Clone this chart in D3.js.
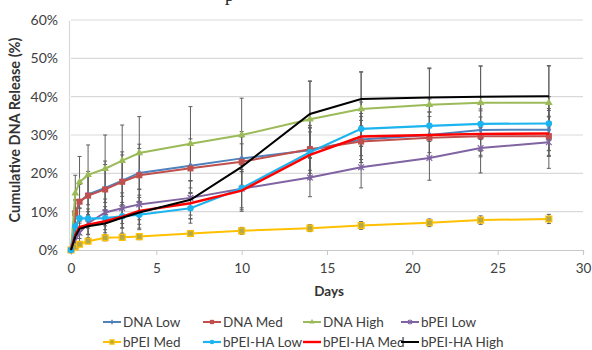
<!DOCTYPE html>
<html>
<head>
<meta charset="utf-8">
<script src="https://cdn.jsdelivr.net/npm/d3@7"></script>
<style>
  body { margin: 0; background: #fff; }
  svg { display: block; font-family: Lato, "Open Sans", sans-serif; }
</style>
</head>
<body>
<div id="chart"></div>
<script>
// sampling days
const days = [0, 0.25, 0.5, 1, 2, 3, 4, 7, 10, 14, 17, 21, 24, 28];

// cumulative release (%) per series
const dnaLow  = [0, 9.0, 12.5, 14.5, 16.2, 18.1, 20.1, 22.0, 23.9, 26.0, 28.8, 30.0, 31.3, 31.4];
const dnaMed  = [0, 9.6, 12.6, 14.2, 15.8, 17.8, 19.5, 21.3, 23.0, 26.3, 28.3, 29.3, 29.7, 29.7];
const dnaHigh = [0, 14.8, 17.7, 19.6, 21.2, 23.3, 25.3, 27.7, 30.0, 34.1, 36.8, 37.9, 38.4, 38.4];
const bpeiLow = [0, 2.5, 4.5, 7.0, 9.8, 10.9, 11.9, 13.6, 16.0, 18.9, 21.6, 24.0, 26.6, 28.1];
const bpeiMed = [0, 0.8, 1.5, 2.3, 3.2, 3.3, 3.5, 4.3, 5.0, 5.7, 6.4, 7.1, 7.8, 8.1];
const haLow   = [0, 6.2, 8.3, 8.2, 8.3, 8.8, 9.2, 10.9, 16.1, 25.5, 31.6, 32.4, 32.9, 33.0];
const haMed   = [0, 4.0, 6.0, 6.6, 7.5, 8.7, 10.2, 12.2, 15.5, 24.8, 29.6, 30.0, 30.3, 30.4];
const haHigh  = [0, 3.5, 5.5, 6.2, 6.9, 8.4, 9.8, 13.1, 21.7, 35.5, 39.4, 39.8, 40.0, 40.1];

// error bar half-widths (%)
const dnaLowErr  = [0, 4, 5, 6, 7, 7.5, 7.5, 7, 7, 6, 6, 6, 5.5, 5.5];
const dnaMedErr  = [0, 3.5, 4.5, 5.5, 6.5, 7, 7, 6.5, 6.5, 5.5, 5.5, 5.5, 5, 5];
const dnaHighErr = [0, 4.7, 6.7, 7.8, 8.8, 9.3, 9.5, 9.7, 9.6, 10, 9.7, 9.6, 9.6, 9.6];
const bpeiLowErr = [0, 1.5, 2.5, 3, 3.5, 4, 4, 4.5, 5, 5, 5.4, 5.8, 6.5, 6.8];
const bpeiMedErr = [0, 0.3, 0.5, 0.6, 0.8, 0.8, 0.8, 0.8, 0.9, 0.9, 1, 1, 1.1, 1.2];
const haLowErr   = [0, 2, 2.5, 2.5, 3, 3, 3.5, 3.9, 6, 7, 7, 7, 7, 7];
const haMedErr   = [0, 2, 2, 2.5, 3, 3, 3.5, 4, 5, 6, 6, 6, 6, 6];
const haHighErr  = [0, 2, 2.5, 3, 3.5, 4, 4.5, 5, 6, 8.5, 7, 7.5, 8, 8];

const seriesNames = ["DNA Low", "DNA Med", "DNA High", "bPEI Low",
                     "bPEI Med", "bPEI-HA Low", "bPEI-HA Med", "bPEI-HA High"];
const seriesValues = [dnaLow, dnaMed, dnaHigh, bpeiLow, bpeiMed, haLow, haMed, haHigh];
const seriesErrors = [dnaLowErr, dnaMedErr, dnaHighErr, bpeiLowErr, bpeiMedErr, haLowErr, haMedErr, haHighErr];

const xTicks = [0, 5, 10, 15, 20, 25, 30];
const yTicks = [0, 10, 20, 30, 40, 50, 60];

const styles = [
  { color: "#4f81bd", marker: "diamond", width: 2 },
  { color: "#c0504d", marker: "square", width: 2 },
  { color: "#9bbb59", marker: "triangle", width: 2 },
  { color: "#8064a2", marker: "star", width: 2 },
  { color: "#ffc000", marker: "xsquare", width: 2 },
  { color: "#1cb4ef", marker: "circle", width: 2.2 },
  { color: "#ff0000", marker: "none", width: 2.4 },
  { color: "#000000", marker: "none", width: 2 }
];

class ReleaseChart {
  constructor(opts) {
    this.element = opts.element;
    this.draw();
  }

  draw() {
    this.margin = { top: 20, right: 9, bottom: 100, left: 71 };
    this.width = 592 - this.margin.left - this.margin.right;
    this.height = 350 - this.margin.top - this.margin.bottom;

    this.svg = d3.select(this.element).append("svg")
      .attr("width", 592)
      .attr("height", 350)
      .style("background-color", "white");

    // stray descender from the caption above the figure
    this.svg.append("text")
      .attr("x", 225).attr("y", 1)
      .style("font-family", "'Liberation Serif', serif")
      .style("font-size", "18px")
      .attr("fill", "#222")
      .text("p");

    this.g = this.svg.append("g")
      .attr("transform", `translate(${this.margin.left},${this.margin.top})`);

    this.x = d3.scaleLinear().domain([0, 30]).range([0, 512]);
    this.y = d3.scaleLinear().domain([0, 60]).range([this.height, 0]);

    this.drawAxes();
    this.drawErrors();
    this.drawLines();
    this.drawLegend();
  }

  drawAxes() {
    const g = this.g;
    // horizontal grid
    g.append("g")
      .selectAll("line")
      .data(yTicks.slice(1))
      .enter().append("line")
      .attr("x1", 0).attr("x2", 512)
      .attr("y1", d => this.y(d)).attr("y2", d => this.y(d))
      .style("stroke", "#d9d9d9").style("stroke-width", 1.2);

    const xAxis = g.append("g")
      .attr("transform", `translate(0,${this.height})`)
      .call(d3.axisBottom(this.x).tickValues(xTicks).tickSize(5).tickPadding(8));
    xAxis.select(".domain").attr("stroke", "#c8c8c8").attr("stroke-width", 1.2);
    xAxis.selectAll(".tick line").attr("stroke", "#c8c8c8");
    xAxis.selectAll("text")
      .style("font-size", "13.5px").style("font-family", "Lato, sans-serif").attr("fill", "#404040");

    const yAxis = g.append("g")
      .attr("transform", "translate(-2,0)")
      .call(d3.axisLeft(this.y).tickValues(yTicks).tickSize(0).tickPadding(11)
        .tickFormat(d => d + "%"));
    yAxis.select(".domain").attr("stroke", "#d9d9d9").attr("stroke-width", 1.2);
    yAxis.selectAll("text")
      .style("font-size", "14px").style("font-family", "Lato, sans-serif").attr("fill", "#404040");

    g.append("text")
      .attr("transform", `translate(-51,${this.height / 2 - 5}) rotate(-90)`)
      .attr("text-anchor", "middle")
      .style("font-size", "14.5px").style("font-weight", "bold")
      .attr("fill", "#333")
      .text("Cumulative DNA Release (%)");

    g.append("text")
      .attr("x", this.x(15) + 2).attr("y", this.height + 46)
      .attr("text-anchor", "middle")
      .style("font-size", "13.5px").style("font-weight", "bold")
      .attr("fill", "#333")
      .text("Days");
  }

  drawErrors() {
    const pts = [];
    seriesValues.forEach((vals, s) => {
      vals.forEach((v, i) => {
        const e = seriesErrors[s][i];
        if (e > 0) pts.push({ d: days[i], lo: v - e, hi: v + e });
      });
    });
    const eg = this.g.append("g").attr("class", "errors")
      .style("stroke", "#5e5e5e").style("stroke-width", 1);
    eg.selectAll("line.bar").data(pts).enter().append("line")
      .attr("x1", d => this.x(d.d)).attr("x2", d => this.x(d.d))
      .attr("y1", d => this.y(d.lo)).attr("y2", d => this.y(d.hi));
    ["lo", "hi"].forEach(k => {
      eg.selectAll("line.cap" + k).data(pts).enter().append("line")
        .attr("x1", d => this.x(d.d) - 2).attr("x2", d => this.x(d.d) + 2)
        .attr("y1", d => this.y(d[k])).attr("y2", d => this.y(d[k]));
    });
  }

  marker(sel, st, size) {
    const r = size;
    if (st.marker === "diamond") {
      sel.append("path").attr("d", d3.symbol(d3.symbolDiamond, r * r * 1.6))
        .attr("fill", st.color);
    } else if (st.marker === "square") {
      sel.append("path").attr("d", d3.symbol(d3.symbolSquare, r * r * 3.2))
        .attr("fill", st.color);
    } else if (st.marker === "triangle") {
      sel.append("path").attr("d", d3.symbol(d3.symbolTriangle, r * r * 2.2))
        .attr("fill", st.color);
    } else if (st.marker === "star") {
      sel.append("path").attr("d", d3.symbol(d3.symbolTimes, r * r * 2))
        .attr("fill", "none").attr("stroke", st.color).attr("stroke-width", 1.2);
      sel.append("line").attr("y1", -r).attr("y2", r)
        .attr("stroke", st.color).attr("stroke-width", 1.2);
    } else if (st.marker === "xsquare") {
      sel.append("path").attr("d", d3.symbol(d3.symbolSquare, r * r * 3))
        .attr("fill", "#b3a84a").attr("stroke", st.color).attr("stroke-width", 1.2);
    } else if (st.marker === "circle") {
      sel.append("circle").attr("r", r * 0.95).attr("fill", st.color);
    }
  }

  drawLines() {
    const line = d3.line()
      .x((d, i) => this.x(days[i]))
      .y(d => this.y(d));
    seriesValues.forEach((vals, s) => {
      const st = styles[s];
      const sg = this.g.append("g").attr("class", "series");
      sg.append("path")
        .datum(vals)
        .attr("d", line)
        .attr("fill", "none")
        .attr("stroke", st.color)
        .attr("stroke-width", st.width);
      const that = this;
      sg.selectAll("g.pt")
        .data(vals)
        .enter().append("g")
        .attr("transform", (d, i) => `translate(${that.x(days[i])},${that.y(d)})`)
        .each(function () { that.marker(d3.select(this), st, 3.4); });
    });
  }

  drawLegend() {
    const colX = [103, 203, 303, 401];
    const rowY = [322, 342];
    const lg = this.svg.append("g").attr("class", "legend");
    seriesNames.forEach((name, i) => {
      const st = styles[i];
      const item = lg.append("g")
        .attr("transform", `translate(${colX[i % 4]},${rowY[Math.floor(i / 4)]})`);
      item.append("line")
        .attr("x1", 0).attr("x2", 18)
        .attr("stroke", st.color).attr("stroke-width", st.width);
      const m = item.append("g").attr("transform", "translate(9,0)");
      this.marker(m, st, 2.4);
      item.append("text")
        .attr("x", 20).attr("y", 5)
        .style("font-size", "13.5px")
        .attr("fill", "#404040")
        .text(name);
    });
  }
}

new ReleaseChart({ element: "#chart" });
</script>
</body>
</html>
